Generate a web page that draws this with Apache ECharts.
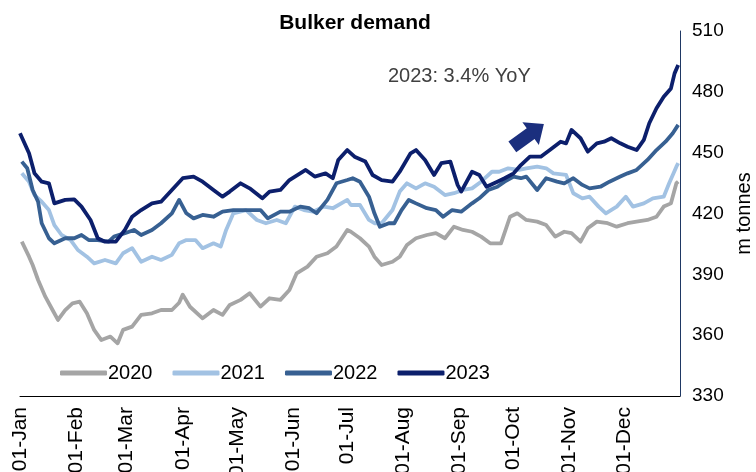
<!DOCTYPE html>
<html><head><meta charset="utf-8">
<script src="https://cdn.jsdelivr.net/npm/echarts@6/dist/echarts.min.js"></script>
<style>html,body{margin:0;padding:0;background:#fff}#c{width:756px;height:472px}</style>
</head><body><div id="c"></div>
<script>
// Day-of-year (0 = 01-Jan) and demand values (m tonnes)
var days2020 = [1,5,7,10,14,18,21,25,29,33,37,41,45,50,54,57,62,67,73,78,84,88,90,94,101,107,112,116,122,127,133,138,144,149,153,159,164,170,175,181,183,188,193,196,200,206,210,214,219,225,230,235,240,245,250,255,260,266,271,275,280,286,291,296,301,305,310,314,319,325,330,336,341,347,352,356,360,363,364];
var vals2020 = [406.1,398.7,394.6,387.2,379,372.4,367.5,372.4,375.7,376.5,370.8,362.6,357.6,359.3,356,362.6,364.2,370,370.8,372.4,372.4,376,380,374,368.3,372.4,370,374.9,377.4,380.7,374.1,378.2,377.4,382.3,390.5,393.8,398.7,400.4,403.7,411.9,411,407.8,403.7,398.7,394.6,396.2,398.7,404.5,407.8,409.4,410.3,407.8,413.5,411.9,411,408.6,405.3,405.3,418.4,420.1,416.8,416,414.3,408.6,411,410.3,406.1,412.7,416,415.2,413.5,415.2,416,416.8,418.4,423.4,425,434.9,435.7];

var days2021 = [1,5,8,12,16,19,23,28,32,37,41,47,53,57,62,67,73,78,84,88,92,97,101,107,111,114,118,125,131,136,142,147,152,157,162,168,173,181,183,188,193,196,200,206,210,214,219,224,229,235,240,245,250,255,261,265,270,276,280,286,291,295,302,306,311,315,320,324,330,335,339,345,350,356,359,363,364];
var vals2021 = [439.8,435.7,429.1,425.8,421.7,414.3,409.4,406.9,402,398.7,395.4,397.1,395.4,400.4,402.9,396.2,398.7,397.1,399.6,405.3,406.9,406.9,402.9,405.3,403.7,411.9,420.1,421.7,416.8,415.2,416.8,415.2,423.4,421.7,420.9,423.4,422.6,426.7,424.2,424.2,416.8,415.2,415.2,421.7,430.8,434.9,432.4,434.9,433.2,429.1,430,431.6,432.4,435.7,440.6,440.6,442.3,441.5,442.3,443.1,442.3,439.8,439,430,427.5,428.3,423.4,420.1,423.4,428.3,423.4,425,427.5,428.3,434.9,443.1,444.8];

var days2022 = [1,4,7,10,12,16,19,25,30,34,38,43,49,52,58,63,67,73,78,84,88,92,96,101,107,112,118,125,133,137,144,149,155,160,164,170,175,181,184,188,193,196,199,204,207,211,215,219,225,230,234,239,244,250,254,259,264,268,273,277,280,286,291,297,301,306,311,315,321,326,332,336,341,347,352,357,361,364];
var vals2022 = [445.6,442.3,431.6,425.8,415.2,407.8,405.3,407.8,407.8,409.4,406.9,406.9,406.1,408.6,410.3,411.9,409.4,411.9,415.2,420.1,426.7,420.1,417.6,419.3,418.4,420.9,421.7,421.7,421.7,417.6,420.9,420.9,423.4,422.6,420.1,426.7,434.9,436.5,437.4,435.7,428.3,420.1,413.5,415.2,415.2,421.7,426.7,425,422.6,421.7,418.4,421.7,420.9,425,427.5,431.6,433.2,435.7,438.2,437.4,438.2,431.6,437.4,435.7,434.9,437.4,434.1,432.4,433.2,435.7,438.2,439.8,441.5,446.4,451.3,455.4,459.6,463.7];

var days2023 = [0,5,8,12,16,19,25,30,34,39,43,47,53,58,62,67,73,78,84,90,96,101,107,112,116,122,127,134,138,144,149,158,163,169,173,176,181,185,191,195,200,206,210,216,219,224,229,233,238,242,244,250,254,258,264,268,273,277,282,288,293,299,302,305,310,314,319,323,327,332,336,341,345,348,352,356,360,362,364];
var vals2023 = [459.6,449.7,439.8,435.7,434.9,425,426.7,427,423.4,416.8,407.8,406.1,406.1,411.9,418.4,421.7,425,425.8,431.6,437.4,438.2,435.7,431.6,428.3,430.8,434.9,432.4,427.5,430.8,431.6,436.5,441.5,438.2,439.8,437.4,446.4,451.3,448,445.6,439,436.5,435.7,440.6,449.7,451.3,446.4,439,444.8,445.6,434.1,430.8,440.6,439,433.2,435.7,437.4,439.8,443.9,448,448,451.3,455.4,454.6,461.2,457.1,450.5,454.6,455.4,457.1,454.6,452.9,451.3,456.3,464.5,471.9,477.6,481.7,489.1,493.2];

var monthStarts = [0,31,59,90,120,151,181,212,243,273,304,334];
var monthLabels = ['01-Jan','01-Feb','01-Mar','01-Apr','01-May','01-Jun','01-Jul','01-Aug','01-Sep','01-Oct','01-Nov','01-Dec'];
var seriesNames = ['2020','2021','2022','2023'];
var yTicks = [330,360,390,420,450,480,510];
var annotationText = '2023: 3.4% YoY';
var arrowAt = [281, 458.5];

function pairs(d, v){ return d.map(function(x,i){ return [x, v[i]]; }); }
var colors = ['#A5A5A5','#A2C2E3','#376092','#0C1F6C'];
var allData = [pairs(days2020,vals2020), pairs(days2021,vals2021), pairs(days2022,vals2022), pairs(days2023,vals2023)];

var chart = echarts.init(document.getElementById('c'), null, {renderer:'canvas'});
var series = allData.map(function(d,i){
  return {
    name: seriesNames[i], type:'line', data:d, showSymbol:false, symbol:'none',
    lineStyle:{width:3.8, color:colors[i], join:'round'}, itemStyle:{color:colors[i]},
    animation:false, z: 2+i
  };
});
series[3].markPoint = {
  silent:true, animation:false,
  symbol:'path://M0,30 L58,30 L58,8 L100,50 L58,92 L58,70 L0,70 Z',
  symbolSize:[39,28],
  itemStyle:{color:'#1B2F7E'}, label:{show:false},
  data:[{coord:arrowAt, symbolRotate:36}]
};

chart.setOption({
  backgroundColor:'#fff',
  animation:false,
  title:{text:'Bulker demand', left:350, textAlign:'center', top:8,
    textStyle:{fontFamily:'Liberation Sans, Arial', fontWeight:'bold', fontSize:21, color:'#000'}},
  grid:{left:20, right:76, top:31, bottom:76, containLabel:false, outerBoundsMode:'none'},
  legend:{
    data:seriesNames, left:55, top:358, itemWidth:47, itemHeight:5, itemGap:20,
    icon:'roundRect',
    textStyle:{fontFamily:'Liberation Sans, Arial', fontSize:20, color:'#000', padding:[0,0,0,-4]}
  },
  xAxis:{
    type:'value', min:0, max:365,
    axisLine:{show:true, onZero:false, lineStyle:{color:'#000', width:1}},
    axisTick:{show:false},
    splitLine:{show:false},
    axisLabel:{
      customValues: monthStarts, rotate:90, margin:11,
      fontFamily:'Liberation Sans, Arial', fontSize:21, color:'#000',
      formatter:function(v){ var i = monthStarts.indexOf(Math.round(v)); return i>=0 ? monthLabels[i] : ''; }
    }
  },
  yAxis:{
    type:'value', position:'right', min:yTicks[0], max:yTicks[yTicks.length-1], interval:30,
    name:'m tonnes', nameLocation:'middle', nameRotate:90, nameGap:52,
    nameTextStyle:{fontFamily:'Liberation Sans, Arial', fontSize:20, color:'#000'},
    axisLine:{show:true, onZero:false, lineStyle:{color:'#1F3864', width:1}},
    axisTick:{show:false},
    splitLine:{show:false},
    axisLabel:{margin:12, fontFamily:'Liberation Sans, Arial', fontSize:19, color:'#000'}
  },
  graphic:[{
    type:'text', left:388, top:66, silent:true,
    style:{text:annotationText, fontFamily:'Liberation Sans, Arial', fontSize:20, fill:'#404040'}
  }],
  series:series
});
</script></body></html>
